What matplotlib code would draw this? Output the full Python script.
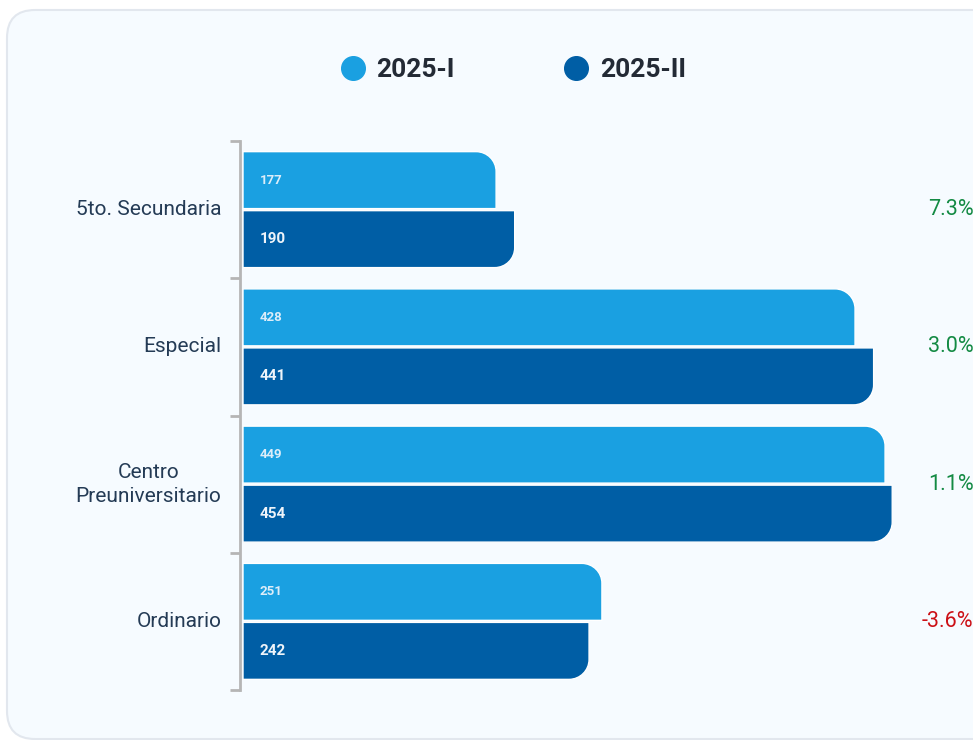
import numpy as np
import matplotlib.pyplot as plt
from matplotlib.path import Path
from matplotlib.patches import PathPatch, FancyBboxPatch
from matplotlib.lines import Line2D
from matplotlib.transforms import IdentityTransform, blended_transform_factory

plt.rcParams['font.family'] = ['Roboto', 'DejaVu Sans']

categories = ['5to. Secundaria', 'Especial', 'Centro\nPreuniversitario', 'Ordinario']
series_names = ['2025-I', '2025-II']
values_1 = [177, 428, 449, 251]
values_2 = [190, 441, 454, 242]

c_light = '#1aa0e1'
c_dark = '#005ea5'
bg = '#f6fbff'

W, H = 973, 740
fig = plt.figure(figsize=(W / 100, H / 100), dpi=100)
fig.patch.set_facecolor('white')

# card background with rounded corners (pixel coords)
card = FancyBboxPatch((7, 1), 1000, 729, boxstyle='round,pad=0,rounding_size=28',
                      transform=IdentityTransform(), facecolor=bg,
                      edgecolor='#e2e7ee', linewidth=1.5, zorder=-5)
fig.patches.append(card)

ax = fig.add_axes([243 / W, 1 - 690 / H, 715 / W, 549 / H])
ax.set_facecolor('none')
ax.set_xlim(0, 500)
ax.set_ylim(3.5, -0.5)

y = np.arange(len(categories))
h = 0.415
off = 0.215
rx, ry = 14, 0.145
k = 0.5523


def rounded_bar(yc_corner, yo, w, color):
    # bar from x=0 to w, only the right corner at yc_corner rounded
    s = 1 if yo > yc_corner else -1
    verts = [(0, yc_corner), (w - rx, yc_corner),
             (w - rx + k * rx, yc_corner), (w, yc_corner + s * ry * (1 - k)), (w, yc_corner + s * ry),
             (w, yo), (0, yo), (0, yc_corner)]
    codes = [Path.MOVETO, Path.LINETO, Path.CURVE4, Path.CURVE4, Path.CURVE4,
             Path.LINETO, Path.LINETO, Path.CLOSEPOLY]
    ax.add_patch(PathPatch(Path(verts, codes), facecolor=color, edgecolor='white',
                           linewidth=1, zorder=2))


for yi, v1, v2 in zip(y, values_1, values_2):
    rounded_bar(yi - off - h / 2, yi - off + h / 2, v1, c_light)
    rounded_bar(yi + off + h / 2, yi + off - h / 2, v2, c_dark)
    ax.annotate(str(v1), (0, yi - off), xytext=(12, 0), textcoords='offset points',
                va='center', ha='left', fontsize=9.5, fontweight='bold', color='#dcedf9', zorder=3)
    ax.annotate(str(v2), (0, yi + off), xytext=(12, 0), textcoords='offset points',
                va='center', ha='left', fontsize=11, fontweight='bold', color='#eef4fa', zorder=3)

# percent change labels at the right edge
tr = blended_transform_factory(fig.transFigure, ax.transData)
for yi, v1, v2 in zip(y, values_1, values_2):
    pct = (v2 - v1) / v1 * 100
    col = '#138a43' if pct >= 0 else '#cc1016'
    ax.text(1.0005, yi, f'{pct:.1f}%', transform=tr, ha='right', va='center',
            fontsize=15.5, color=col, clip_on=False)

# category labels
tr_cat = blended_transform_factory(ax.transAxes, ax.transData)
for yi, cat in zip(y, categories):
    ax.annotate(cat, (0, yi), xycoords=tr_cat, xytext=(-15.5, 0), textcoords='offset points',
                ha='right', va='center', multialignment='center', fontsize=15,
                color='#243b55', linespacing=1.35)

# y axis styling
ax.set_yticks([])
ax.set_yticks(np.arange(-0.5, 4, 1), minor=True)
ax.tick_params(axis='y', which='minor', length=7, width=2, color='#b5b5b5')
ax.set_xticks([])
for sp in ['top', 'right', 'bottom']:
    ax.spines[sp].set_visible(False)
ax.spines['left'].set_color('#b5b5b5')
ax.spines['left'].set_linewidth(2)
ax.spines['left'].set_position(('outward', 2))

handles = [Line2D([], [], marker='o', linestyle='none', markersize=17, color=c)
           for c in [c_light, c_dark]]
fig.legend(handles, series_names, loc='center', bbox_to_anchor=(0.527, 1 - 70 / H),
           ncol=2, frameon=False, prop={'size': 19, 'weight': 'bold'},
           labelcolor='#232a35', handletextpad=0.4, columnspacing=4.1, handlelength=1.0)

fig.savefig('out.png', dpi=100, facecolor=fig.get_facecolor())
